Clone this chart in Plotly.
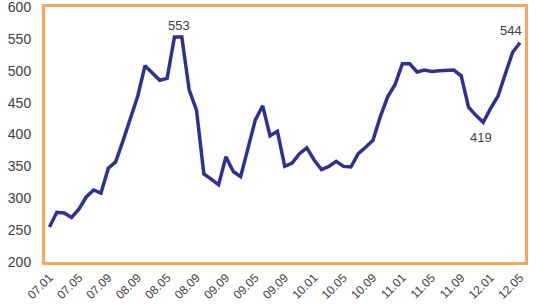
import plotly.graph_objects as go

# Monthly values, 07.01 .. 12.05 (65 months)
values = [255, 278, 277, 270, 283, 302, 313, 308, 347, 357,
          390, 423, 460, 508, 497, 485, 488, 553, 553, 470,
          438, 338, 330, 321, 365, 342, 334, 378, 423, 445,
          398, 405, 350, 355, 370, 379, 360, 345, 350, 358,
          350, 349, 370, 380, 391, 428, 459, 478, 511, 511,
          498, 501, 499, 500, 501, 501, 492, 443, 430, 419,
          441, 460, 495, 529, 544]
x_idx = list(range(len(values)))

tick_positions = list(range(0, 65, 4))
tick_labels = ["07.01", "07.05", "07.09", "08.09", "08.05", "08.09",
               "09.09", "09.05", "09.09", "10.01", "10.05", "10.09",
               "11.01", "11.05", "11.09", "12.01", "12.05"]

y_ticks = [200, 250, 300, 350, 400, 450, 500, 550, 600]

# Labelled points: (index, text, xshift, yshift)
labels = [(17, "553", 5, 11), (59, "419", -2, -15), (64, "544", -9, 12)]

LINE = "#2E3192"
ORANGE = "#F8A65C"
TEXT = "#404040"
FONT = "Liberation Sans"

fig = go.Figure()
fig.add_trace(go.Scatter(
    x=x_idx, y=values, mode="lines",
    line=dict(color=LINE, width=3.5),
    hoverinfo="skip", showlegend=False,
))

for i, txt, xs, ys in labels:
    fig.add_annotation(x=x_idx[i], y=values[i], text=txt, showarrow=False,
                       xshift=xs, yshift=ys,
                       font=dict(family=FONT, size=13, color=TEXT))

fig.update_layout(
    width=536, height=306,
    margin=dict(l=45, r=11, t=7, b=44, autoexpand=False),
    paper_bgcolor="white", plot_bgcolor="white",
    font=dict(family=FONT, size=13, color=TEXT),
)
fig.update_xaxes(
    range=[-0.61, 64.68], automargin=False,
    tickmode="array", tickvals=tick_positions, ticktext=tick_labels,
    tickangle=-45, showgrid=False, zeroline=False,
    showline=True, linecolor=ORANGE, linewidth=3, mirror=True,
    ticks="", ticklabelstandoff=1, ticklabeloverflow="allow",
    tickfont=dict(family=FONT, size=12, color=TEXT),
)
fig.update_yaxes(
    range=[200, 600], automargin=False,
    tickmode="array", tickvals=y_ticks,
    showgrid=False, zeroline=False,
    showline=True, linecolor=ORANGE, linewidth=3, mirror=True,
    ticks="", ticklabelstandoff=8, ticklabeloverflow="allow",
    tickfont=dict(family=FONT, size=14, color=TEXT),
)

fig.write_html("out.html", config={"displayModeBar": False},
               post_script="document.body.style.margin='0';document.body.style.padding='0';")
